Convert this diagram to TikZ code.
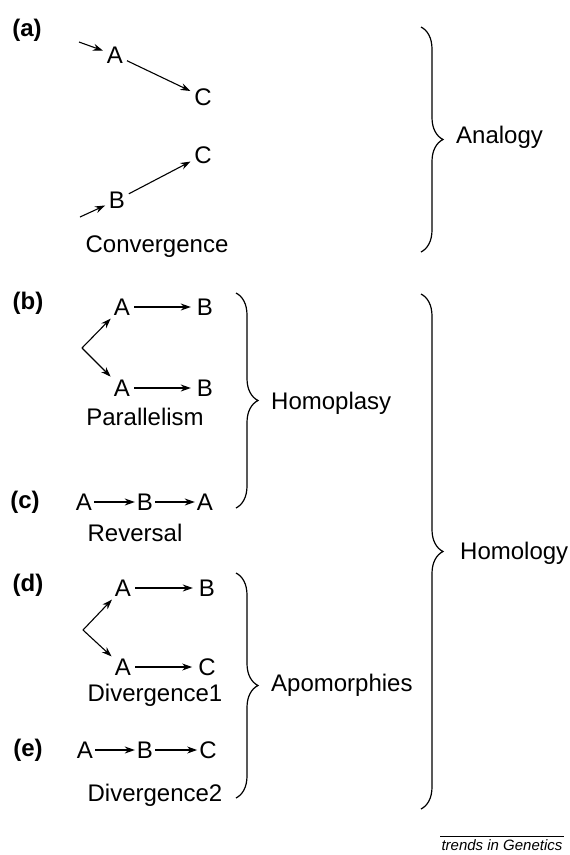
\documentclass[tikz,border=0pt]{standalone}
\usepackage{fontspec}
\setmainfont{Liberation Sans}
\usetikzlibrary{arrows.meta,decorations.pathreplacing}
\begin{document}
\begin{tikzpicture}[x=1pt,y=-1pt,
  every node/.style={font=\fontsize{24}{28}\selectfont, inner sep=1pt},
  lbl/.style={font=\fontsize{24}{28}\selectfont\bfseries},
  arr/.style={-{Stealth[length=10pt,width=7pt]}, line width=1.1pt, shorten <=3pt, shorten >=3pt},
  brc/.style={decorate, decoration={brace, amplitude=22pt}, line width=1.2pt},
  txt/.style={anchor=west}]
\useasboundingbox (0,0) rectangle (570,855);

% (a) Convergence
\node[lbl] (la) at (27,30) {(a)};
\coordinate (ina) at (79,42);
\coordinate (inb) at (80,217);
\node (a1) at (115,55) {A};
\node (c1) at (203,97) {C};
\node (c2) at (203,155) {C};
\node (b1) at (117,200) {B};
\draw[arr, shorten <=0pt] (ina) -- (a1);
\draw[arr] (a1) -- (c1);
\draw[arr, shorten <=0pt] (inb) -- (b1);
\draw[arr] (b1) -- (c2);
\node (conv) at (157,247) {Convergence};

% (b) Parallelism
\node[lbl] (lb) at (28,303) {(b)};
\coordinate (brb) at (82,348);
\node (bA1) at (122,307) {A};
\node (bB1) at (205,307) {B};
\node (bA2) at (122,388) {A};
\node (bB2) at (205,388) {B};
\draw[arr, shorten <=0pt] (brb) -- (bA1);
\draw[arr, shorten <=0pt] (brb) -- (bA2);
\draw[arr, shorten >=5pt] (bA1) -- (bB1);
\draw[arr, shorten >=5pt] (bA2) -- (bB2);
\node (par) at (145,417) {Parallelism};

% (c) Reversal
\node[lbl] (lc) at (25,502) {(c)};
\node (cA1) at (84,502) {A};
\node (cB) at (145,502) {B};
\node (cA2) at (205,502) {A};
\draw[arr, shorten <=1pt, shorten >=1pt] (cA1) -- (cB);
\draw[arr, shorten <=1pt, shorten >=1pt] (cB) -- (cA2);
\node (rev) at (135,533) {Reversal};

% (d) Divergence1
\node[lbl] (ld) at (28,585) {(d)};
\coordinate (brd) at (83,630);
\node (dA1) at (123,588) {A};
\node (dB) at (207,588) {B};
\node (dA2) at (123,667) {A};
\node (dC) at (207,667) {C};
\draw[arr, shorten <=0pt] (brd) -- (dA1);
\draw[arr, shorten <=0pt] (brd) -- (dA2);
\draw[arr, shorten >=5pt] (dA1) -- (dB);
\draw[arr, shorten >=5pt] (dA2) -- (dC);
\node (div1) at (155,695) {Divergence1};

% (e) Divergence2
\node[lbl] (le) at (28,750) {(e)};
\node (eA) at (85,750) {A};
\node (eB) at (145,750) {B};
\node (eC) at (208,750) {C};
\draw[arr, shorten <=1pt, shorten >=1pt] (eA) -- (eB);
\draw[arr, shorten <=1pt, shorten >=1pt] (eB) -- (eC);
\node (div2) at (155,795) {Divergence2};

% braces
\coordinate (anT) at (421,27);
\coordinate (anB) at (421,252);
\draw[brc] (anT) -- (anB);
\node[txt] (analogy) at (455,137) {Analogy};

\coordinate (hpT) at (236,293);
\coordinate (hpB) at (236,508);
\draw[brc] (hpT) -- (hpB);
\node[txt] (homoplasy) at (270,403) {Homoplasy};

\coordinate (apT) at (236,573);
\coordinate (apB) at (236,798);
\draw[brc] (apT) -- (apB);
\node[txt] (apo) at (270,685) {Apomorphies};

\coordinate (hoT) at (421,294);
\coordinate (hoB) at (421,809);
\draw[brc] (hoT) -- (hoB);
\node[txt] (homology) at (459,553) {Homology};

% credit
\node[font=\fontsize{15}{18}\selectfont\itshape] (tig) at (502,845) {trends in Genetics};
\draw[line width=0.8pt] ([yshift=2pt]tig.north west) -- ([yshift=2pt]tig.north east);
\end{tikzpicture}
\end{document}
